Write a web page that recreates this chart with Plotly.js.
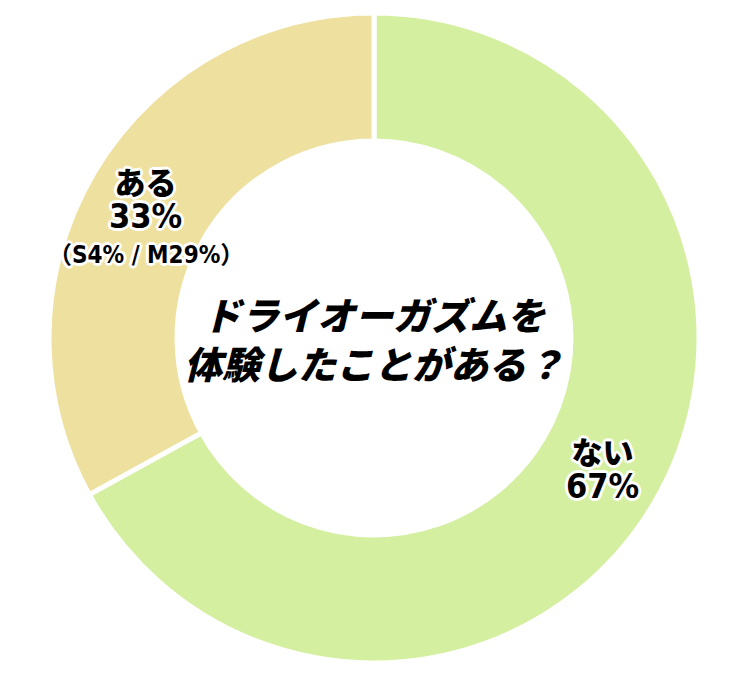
<!DOCTYPE html>
<html>
<head>
<meta charset="utf-8">
<script src="https://cdn.plot.ly/plotly-3.0.1.min.js"></script>
<style>
  html, body { margin: 0; padding: 0; background: #fff; }
  #myPlot { width: 750px; height: 689px; }
</style>
</head>
<body>
<div id="myPlot"></div>
<script>
// Data
const labels = ['ない', 'ある'];
const values = [67, 33];
const breakdown = ['', '（S4% / M29%）'];
const colors = ['#d3ef9f', '#eee09f'];
const question = 'ドライオーガズムを<br>体験したことがある？';

const W = 750, H = 689;
const cx = 374, cy = 338, R = 325;   // pie centre and radius in pixels
const hole = 0.606;

// white outline round the labels
const outline = [
  '2px 0 0 #fff', '-2px 0 0 #fff', '0 2px 0 #fff', '0 -2px 0 #fff',
  '2px 2px 0 #fff', '-2px -2px 0 #fff', '2px -2px 0 #fff', '-2px 2px 0 #fff',
  '3px 0 0 #fff', '-3px 0 0 #fff', '0 3px 0 #fff', '0 -3px 0 #fff'
].join(', ');

const jpFont = "'Noto Sans CJK JP Black', 'Noto Sans CJK JP', sans-serif";
const numFont = "'DejaVu Sans Condensed', 'Noto Sans CJK JP', sans-serif";

const data = [{
  type: 'pie',
  labels: labels,
  values: values,
  textinfo: 'none',
  hole: hole,
  sort: false,
  direction: 'clockwise',
  rotation: 0,
  marker: { colors: colors, line: { color: '#fff', width: 5 } },
  domain: { x: [(cx - R) / W, (cx + R) / W], y: [(H - cy - R) / H, (H - cy + R) / H] },
  hoverinfo: 'none'
}];

// slice labels at the middle angle of each slice, in the ring
const total = values.reduce((a, b) => a + b, 0);
const ringR = R * (1 + hole) / 2 + 4;
const annotations = [];
let cum = 0;
values.forEach((v, i) => {
  const mid = (cum + v / 2) / total * 2 * Math.PI;
  cum += v;
  const px = cx + ringR * Math.sin(mid);
  const py = cy - ringR * Math.cos(mid);
  const base = { xref: 'paper', yref: 'paper', x: px / W, y: 1 - py / H, showarrow: false,
                 xanchor: 'center', yanchor: 'middle' };
  annotations.push(Object.assign({}, base, {
    text: '<span style="font-family:' + jpFont.replace(/'/g, '') + ';font-size:31px">' + labels[i] +
          '</span><br><span style="font-size:34px">' + v + '%</span>',
    yshift: 6,
    font: { family: numFont, size: 26, color: '#000', weight: 700, shadow: outline }
  }));
  if (breakdown[i]) {
    annotations.push(Object.assign({}, base, {
      text: breakdown[i], yshift: -52,
      font: { family: numFont, size: 24, color: '#000', weight: 700, shadow: outline }
    }));
  }
});

annotations.push({
  text: question,
  xref: 'paper', yref: 'paper',
  x: cx / W, y: 1 - cy / H,
  showarrow: false,
  font: { family: jpFont, size: 38, color: '#000', weight: 900, style: 'italic' }
});

const layout = {
  width: W,
  height: H,
  margin: { l: 0, r: 0, t: 0, b: 0 },
  showlegend: false,
  paper_bgcolor: '#fff',
  annotations: annotations
};

Plotly.newPlot('myPlot', data, layout, { displayModeBar: false, staticPlot: true });
</script>
</body>
</html>
